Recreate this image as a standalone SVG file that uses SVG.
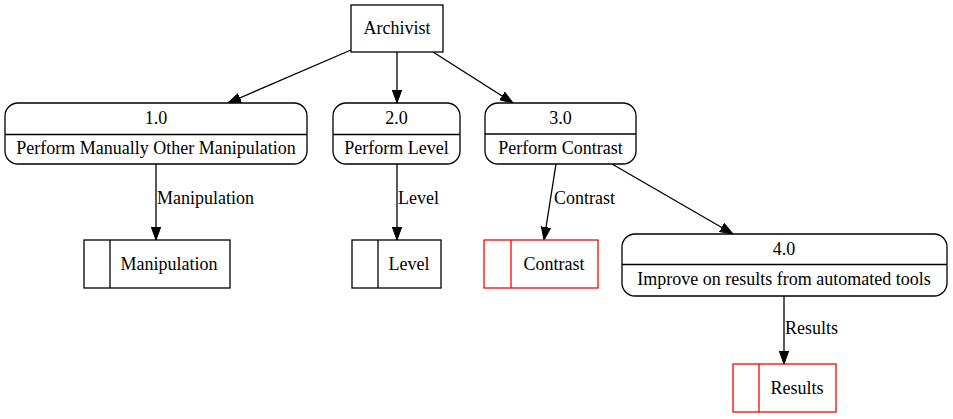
<svg xmlns="http://www.w3.org/2000/svg" width="953" height="419" viewBox="0 0 953 419">
<defs>
<marker id="arr" markerUnits="userSpaceOnUse" markerWidth="14" markerHeight="10" viewBox="0 0 14 10" refX="13" refY="5" orient="auto">
<path d="M0,0.3 L13,5 L0,9.7 Z" fill="#000" stroke="#000" stroke-width="1"/>
</marker>
</defs>
<style>
text{font-family:'Liberation Serif','Times New Roman',serif;font-size:18px;fill:#000}
.c{text-anchor:middle}
.n{fill:#fff;stroke:#000;stroke-width:1.3}
.r{fill:#fff;stroke:#ff0000;stroke-width:1.3}
.l{fill:none;stroke:#000;stroke-width:1.3}
.lr{fill:none;stroke:#ff0000;stroke-width:1.3}
.e{fill:none;stroke:#000;stroke-width:1.3;marker-end:url(#arr)}
</style>
<rect width="953" height="419" fill="#fff"/>
<g id="edges">
<path class="e" d="M351,50 L228,103"/>
<path class="e" d="M397,52 L397,103"/>
<path class="e" d="M433,52 L513,103"/>
<path class="e" d="M156,164 L156,240"/>
<text x="157" y="204">Manipulation</text>
<path class="e" d="M397,164 L397,240"/>
<text x="398" y="204">Level</text>
<path class="e" d="M556,164 L544,240"/>
<text x="554" y="204">Contrast</text>
<path class="e" d="M612,164 L733,234"/>
<path class="e" d="M784,296 L784,364"/>
<text x="785" y="334">Results</text>
</g>
<g id="archivist">
<rect class="n" x="351" y="5" width="92" height="47"/>
<text class="c" x="397" y="34">Archivist</text>
</g>
<g id="p1">
<rect class="n" x="5" y="103" width="302" height="61" rx="13"/>
<path class="l" d="M5,134.5 L307,134.5"/>
<text class="c" x="156" y="124">1.0</text>
<text class="c" x="156" y="154">Perform Manually Other Manipulation</text>
</g>
<g id="p2">
<rect class="n" x="333" y="103" width="127" height="61" rx="13"/>
<path class="l" d="M333,134.5 L460,134.5"/>
<text class="c" x="396.5" y="124">2.0</text>
<text class="c" x="396.5" y="154">Perform Level</text>
</g>
<g id="p3">
<rect class="n" x="485" y="103" width="151" height="61" rx="13"/>
<path class="l" d="M485,134 L636,134"/>
<text class="c" x="560.5" y="124">3.0</text>
<text class="c" x="560.5" y="154">Perform Contrast</text>
</g>
<g id="p4">
<rect class="n" x="622" y="234" width="325" height="62" rx="13"/>
<path class="l" d="M622,264.5 L947,264.5"/>
<text class="c" x="784" y="255">4.0</text>
<text class="c" x="784" y="285">Improve on results from automated tools</text>
</g>
<g id="s1">
<rect class="n" x="84" y="240" width="146" height="48"/>
<path class="l" d="M110,240 L110,288"/>
<text class="c" x="169" y="270">Manipulation</text>
</g>
<g id="s2">
<rect class="n" x="352" y="240" width="89" height="48"/>
<path class="l" d="M378,240 L378,288"/>
<text class="c" x="409" y="270">Level</text>
</g>
<g id="s3">
<rect class="r" x="484" y="240" width="114" height="48"/>
<path class="lr" d="M511,240 L511,288"/>
<text class="c" x="554" y="270">Contrast</text>
</g>
<g id="s4">
<rect class="r" x="733" y="364" width="103" height="48"/>
<path class="lr" d="M759,364 L759,412"/>
<text class="c" x="797" y="394">Results</text>
</g>
</svg>
